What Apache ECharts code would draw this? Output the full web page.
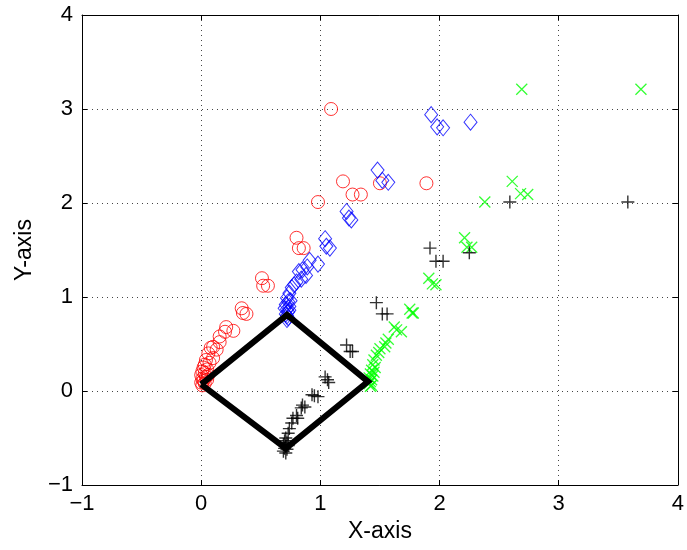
<!DOCTYPE html>
<html>
<head>
<meta charset="utf-8">
<script src="https://cdn.jsdelivr.net/npm/echarts@6/dist/echarts.min.js"></script>
<style>html,body{margin:0;padding:0;background:#fff;}#c{width:687px;height:550px;}</style>
</head>
<body>
<div id="c"></div>
<script>
var xTicks = [-1, 0, 1, 2, 3, 4];
var yTicks = [-1, 0, 1, 2, 3, 4];

var redCircles = [
  [1.09,3.00],[1.19,2.23],[1.27,2.09],[1.34,2.09],[0.98,2.01],[1.50,2.21],[1.89,2.21],
  [0.80,1.63],[0.82,1.52],[0.86,1.52],[0.51,1.20],[0.52,1.12],[0.56,1.12],
  [0.34,0.88],[0.35,0.83],[0.38,0.82],[0.21,0.68],[0.20,0.63],[0.27,0.64],
  [0.155,0.58],[0.155,0.52],[0.10,0.47],[0.08,0.46],[0.13,0.44],[0.06,0.40],
  [0.04,0.33],[0.10,0.35],[0.03,0.28],[0.07,0.30],[0.02,0.25],[0.05,0.23],
  [0.01,0.21],[0.03,0.19],[0.00,0.17],[0.04,0.15],[0.01,0.13],[0.02,0.11],
  [0.00,0.09],[0.03,0.08],[0.01,0.06],[0.06,0.17],[0.05,0.12]
];
var blueDiamonds = [
  [1.93,2.94],[1.98,2.81],[2.03,2.80],[2.26,2.86],[1.48,2.35],[1.52,2.24],[1.57,2.22],
  [1.22,1.91],[1.24,1.84],[1.26,1.82],[1.04,1.62],[1.05,1.54],[1.08,1.52],
  [0.91,1.39],[0.98,1.35],[0.89,1.32],[0.85,1.29],[0.82,1.27],[0.88,1.23],
  [0.84,1.19],[0.80,1.16],[0.78,1.13],[0.76,1.10],[0.74,1.04],[0.72,0.99],
  [0.75,0.96],[0.73,0.95],[0.71,0.92],[0.74,0.90],[0.72,0.87],[0.70,0.88],
  [0.73,0.84],[0.71,0.82],[0.72,0.80],[0.73,0.78],[0.72,0.76],[0.74,0.86]
];
var greenCrosses = [
  [2.69,3.21],[3.69,3.21],[2.61,2.23],[2.68,2.10],[2.74,2.09],[2.38,2.01],
  [2.21,1.63],[2.23,1.53],[2.27,1.53],[1.91,1.20],[1.94,1.14],[1.97,1.13],
  [1.75,0.87],[1.77,0.83],[1.78,0.83],[1.62,0.68],[1.64,0.65],[1.68,0.63],
  [1.57,0.55],[1.55,0.51],[1.54,0.47],[1.50,0.45],[1.49,0.41],[1.47,0.38],
  [1.45,0.33],[1.44,0.28],[1.46,0.25],[1.43,0.22],[1.45,0.20],[1.42,0.18],
  [1.44,0.16],[1.41,0.14],[1.43,0.12],[1.42,0.10],[1.41,0.08],[1.43,0.06],[1.42,0.05]
];
var blackPluses = [
  [3.58,2.01],[2.59,2.01],[1.92,1.52],[1.97,1.38],[2.03,1.38],[2.25,1.47],
  [1.47,0.94],[1.52,0.82],[1.56,0.82],[1.22,0.49],[1.25,0.42],[1.27,0.42],
  [1.04,0.15],[1.06,0.12],[1.07,0.09],[0.93,-0.04],[0.95,-0.05],[0.98,-0.06],
  [0.85,-0.15],[0.87,-0.17],[0.84,-0.18],[0.80,-0.26],[0.77,-0.29],[0.81,-0.29],
  [0.76,-0.34],[0.74,-0.40],[0.73,-0.45],[0.71,-0.50],[0.70,-0.53],[0.72,-0.55],
  [0.69,-0.57],[0.71,-0.59],[0.73,-0.58],[0.70,-0.61],[0.72,-0.62],[0.69,-0.64],[0.71,-0.66]
];
var polygon = [[0.0,0.07],[0.72,0.81],[1.40,0.10],[0.71,-0.61],[0.0,0.07]];

var FONT = 'Liberation Sans';
function fmt(v){ return String(v).replace('-', '\u2212'); }

var axisCommon = {
  type: 'value', min: -1, max: 4, interval: 1,
  axisLine: { show: true, onZero: false, lineStyle: { color: '#000', width: 1 } },
  axisTick: { show: true, inside: true, length: 5, lineStyle: { color: '#000' } },
  splitLine: { show: false }
};

var chart = echarts.init(document.getElementById('c'), null, { renderer: 'canvas' });
chart.setOption({
  animation: false,
  backgroundColor: '#fff',
  grid: { left: 82, top: 15, width: 597, height: 470, show: false },
  xAxis: [
    Object.assign({}, axisCommon, {
      position: 'bottom',
      name: 'X-axis', nameLocation: 'middle', nameGap: 31,
      nameTextStyle: { fontFamily: FONT, fontSize: 23, color: '#000' },
      axisLabel: { formatter: fmt, fontFamily: FONT, fontSize: 22, color: '#000', margin: 8,
        customValues: xTicks },
      splitLine: { show: true, lineStyle: { color: '#444', type: [1, 4], width: 1 } }
    }),
    Object.assign({}, axisCommon, { position: 'top', axisLabel: { show: false } })
  ],
  yAxis: [
    Object.assign({}, axisCommon, {
      position: 'left',
      name: 'Y-axis', nameLocation: 'middle', nameGap: 46,
      nameTextStyle: { fontFamily: FONT, fontSize: 23, color: '#000' },
      axisLabel: { formatter: fmt, fontFamily: FONT, fontSize: 22, color: '#000', margin: 9,
        customValues: yTicks },
      splitLine: { show: true, lineStyle: { color: '#444', type: [1, 4], width: 1 } }
    }),
    Object.assign({}, axisCommon, { position: 'right', axisLabel: { show: false } })
  ],
  series: [
    { type: 'scatter', data: redCircles, symbol: 'circle', symbolSize: 13,
      itemStyle: { color: 'none', borderColor: '#ff0000', borderWidth: 1 } },
    { type: 'scatter', data: blueDiamonds, symbol: 'diamond', symbolSize: [13, 16],
      itemStyle: { color: 'none', borderColor: '#0000ff', borderWidth: 1 } },
    { type: 'scatter', data: greenCrosses, symbol: 'path://M0,0L10,10M10,0L0,10', symbolSize: 11,
      itemStyle: { color: 'none', borderColor: '#00ff00', borderWidth: 1.3 } },
    { type: 'scatter', data: blackPluses, symbol: 'path://M5,0L5,10M0,5L10,5', symbolSize: 13,
      itemStyle: { color: 'none', borderColor: '#000000', borderWidth: 1.4 } },
    { type: 'line', data: polygon, symbol: 'none', z: 5,
      lineStyle: { color: '#000', width: 6, join: 'miter' } }
  ]
});
</script>
</body>
</html>
